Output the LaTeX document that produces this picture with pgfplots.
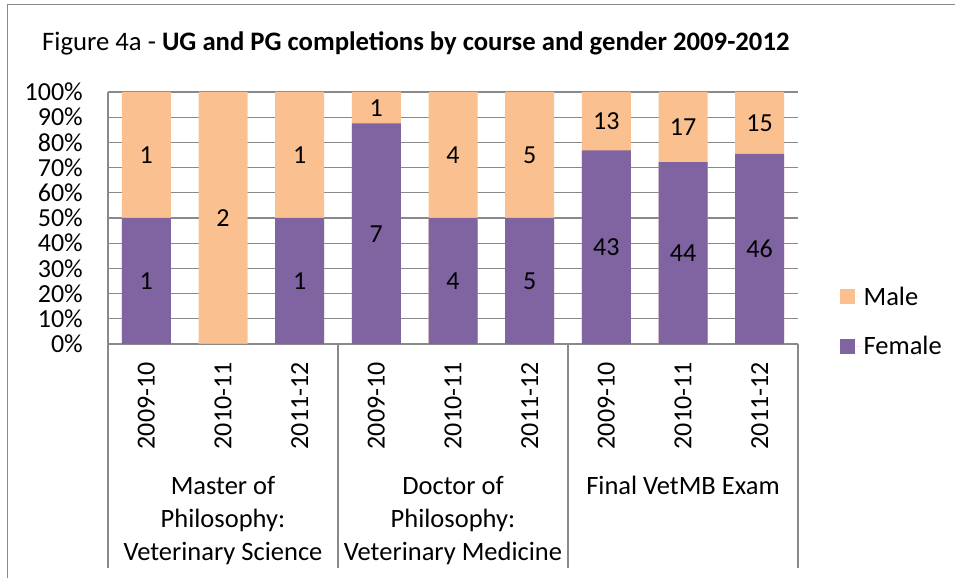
\documentclass[border=0pt]{standalone}
\usepackage{pgfplots}
\pgfplotsset{compat=1.18}
\usepackage{pgfplotstable}
\usepackage{fontspec}
\setmainfont{Carlito}
\definecolor{fem}{HTML}{8064A2}
\definecolor{mal}{HTML}{FAC090}
\definecolor{gridgray}{HTML}{898989}
\pgfplotstableread{
x fp mp fc mc fy my
0 50 100 1 1 25 75
1 0 100 {} 2 0 50
2 50 100 1 1 25 75
3 87.5 100 7 1 43.75 93.75
4 50 100 4 4 25 75
5 50 100 5 5 25 75
6 76.79 100 43 13 38.39 88.39
7 72.13 100 44 17 36.07 86.07
8 75.41 100 46 15 37.70 87.70
}\data
\begin{document}
\begin{tikzpicture}
\path[use as bounding box] (0,0) rectangle (955pt,578pt);
\draw[gridgray, line width=1pt] (7pt,0) -- (7pt,573pt) -- (955pt,573pt);
\node[anchor=base west, inner sep=0pt, font=\fontsize{26.7}{30}\selectfont] at (42pt,527pt) {Figure 4a - \textbf{UG and PG completions by course and gender 2009-2012}};
\begin{axis}[
 at={(108pt,234pt)}, anchor=south west,
 scale only axis, width=690pt, height=252pt,
 ybar, bar shift=0pt, bar width=49pt,
 xmin=-0.5, xmax=8.5, ymin=0, ymax=100,
 xtick={0,...,8},
 xticklabels={2009-10,2010-11,2011-12,2009-10,2010-11,2011-12,2009-10,2010-11,2011-12},
 ytick={0,10,...,100},
 yticklabel={\pgfmathprintnumber{\tick}\%},
 /pgf/number format/assume math mode=true,
 major tick length=0pt,
 ymajorgrids, grid style={gridgray, line width=1.2pt},
 axis lines*=left,
 axis line style={gridgray, line width=1.2pt},
 clip=false,
 tick label style={font=\fontsize{26}{30}\selectfont, black, inner sep=0pt},
 yticklabel style={anchor=east},
 yticklabel shift=25pt,
 xticklabel style={rotate=90, anchor=east},
 xticklabel shift=18pt,
 legend style={at={(1.06,0.089)}, anchor=west, draw=none, fill=none, font=\fontsize{26.5}{30}\selectfont, row sep=26pt, cells={anchor=west}, inner sep=0pt},
 legend image code/.code={\fill[#1, draw=none] (0pt,-7.5pt) rectangle (15pt,7.5pt); \path (0pt,0pt) -- (22pt,0pt);},
 nodes near coords align={center},
]
\addplot[fill=mal, draw=none] table[x=x, y=mp] {\data};
\addlegendentry{Male}
\addplot[fill=fem, draw=none] table[x=x, y=fp] {\data};
\addlegendentry{Female}
\addplot[draw=none, fill=none, forget plot, nodes near coords, point meta=explicit symbolic,
  every node near coord/.style={font=\fontsize{26}{30}\selectfont, black, anchor=center}]
  table[x=x, y=my, meta=mc] {\data};
\addplot[draw=none, fill=none, forget plot, nodes near coords, point meta=explicit symbolic,
  every node near coord/.style={font=\fontsize{26}{30}\selectfont, black, anchor=center}]
  table[x=x, y=fy, meta=fc] {\data};
\foreach \xx in {-0.5,2.5,5.5,8.5} {
  \edef\temp{\noexpand\draw[gridgray, line width=1.2pt] (axis cs:\xx,0) -- ([yshift=-224pt]axis cs:\xx,0);}
  \temp
}
\node[anchor=north, align=center, inner sep=0pt, font=\fontsize{26.5}{33}\selectfont] at ([yshift=-132pt]axis cs:1,0) {Master of\\Philosophy:\\Veterinary Science};
\node[anchor=north, align=center, inner sep=0pt, font=\fontsize{26.5}{33}\selectfont] at ([yshift=-132pt]axis cs:4,0) {Doctor of\\Philosophy:\\Veterinary Medicine};
\node[anchor=north, align=center, inner sep=0pt, font=\fontsize{26.5}{33}\selectfont] at ([yshift=-132pt]axis cs:7,0) {Final VetMB Exam};
\end{axis}
\end{tikzpicture}
\end{document}
